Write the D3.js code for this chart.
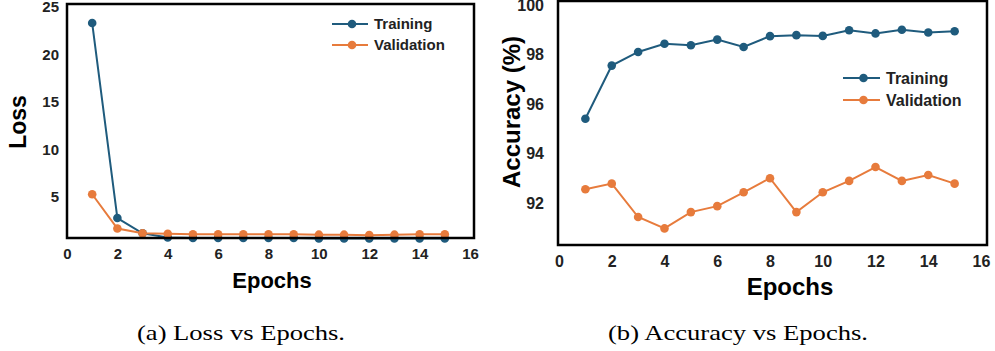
<!DOCTYPE html>
<html>
<head>
<meta charset="utf-8">
<script src="https://cdn.jsdelivr.net/npm/d3@7"></script>
<style>
  body { margin: 0; background: #fff; }
  svg { display: block; }
  .tick text { font-family: "Liberation Sans", Arial, sans-serif; font-weight: bold; fill: #222; }
</style>
</head>
<body>
<svg id="chart" width="995" height="351"></svg>
<script>
// data
const epochs = [1, 2, 3, 4, 5, 6, 7, 8, 9, 10, 11, 12, 13, 14, 15];
const lossTrain = [23.3, 2.8, 1.2, 0.75, 0.7, 0.7, 0.7, 0.7, 0.7, 0.65, 0.65, 0.65, 0.65, 0.65, 0.65];
const lossVal = [5.3, 1.7, 1.2, 1.15, 1.1, 1.1, 1.1, 1.1, 1.1, 1.05, 1.05, 1.0, 1.05, 1.1, 1.1];
const accTrain = [95.4, 97.55, 98.1, 98.43, 98.37, 98.6, 98.3, 98.74, 98.78, 98.75, 98.98, 98.85, 99.0, 98.89, 98.94];
const accVal = [92.55, 92.78, 91.43, 90.97, 91.63, 91.87, 92.43, 93.0, 91.63, 92.43, 92.89, 93.45, 92.89, 93.13, 92.78];
const xTicks = [0, 2, 4, 6, 8, 10, 12, 14, 16];
const lossTicks = [5, 10, 15, 20, 25];
const accTicks = [92, 94, 96, 98, 100];
const seriesNames = ["Training", "Validation"];

const colors = { Training: "#1f5b7d", Validation: "#e77b3c" };
const sans = '"Liberation Sans", Arial, sans-serif';

const svg = d3.select("#chart");

function panel(opt) {
  const x = d3.scaleLinear().domain([0, 16]).range(opt.xRange);
  const y = d3.scaleLinear().domain(opt.yDomain).range(opt.yRange);
  const g = svg.append("g");

  const line = d3.line()
    .x((d, i) => x(epochs[i]))
    .y(d => y(d));

  opt.series.forEach(s => {
    g.append("path")
      .attr("d", line(s.values))
      .attr("fill", "none")
      .attr("stroke", colors[s.name])
      .attr("stroke-width", 2);
    g.selectAll(null)
      .data(s.values)
      .enter()
      .append("circle")
      .attr("cx", (d, i) => x(epochs[i]))
      .attr("cy", d => y(d))
      .attr("r", 4.3)
      .attr("fill", colors[s.name]);
  });

  // frame
  g.append("rect")
    .attr("x", opt.frame[0])
    .attr("y", opt.frame[1])
    .attr("width", opt.frame[2] - opt.frame[0])
    .attr("height", opt.frame[3] - opt.frame[1])
    .attr("fill", "none")
    .attr("stroke", "#000")
    .attr("stroke-width", 2.5);

  // axes
  const xAxis = g.append("g")
    .attr("transform", `translate(0,${opt.frame[3]})`)
    .call(d3.axisBottom(x).tickValues(xTicks).tickSize(0).tickPadding(opt.xPad));
  xAxis.select(".domain").remove();
  xAxis.selectAll("text").style("font-size", opt.tickFont + "px");

  const yAxis = g.append("g")
    .attr("transform", `translate(${opt.frame[0]},0)`)
    .call(d3.axisLeft(y).tickValues(opt.yTicks).tickSize(0).tickPadding(opt.yPad));
  yAxis.select(".domain").remove();
  yAxis.selectAll("text").style("font-size", opt.tickFont + "px");

  // axis titles
  g.append("text")
    .attr("x", opt.xTitle[0])
    .attr("y", opt.xTitle[1])
    .attr("text-anchor", "middle")
    .style("font-family", sans)
    .style("font-weight", "bold")
    .style("font-size", opt.xTitle[2] + "px")
    .text("Epochs");

  g.append("text")
    .attr("transform", `translate(${opt.yTitle[0]},${opt.yTitle[1]}) rotate(-90)`)
    .attr("text-anchor", "middle")
    .attr("dy", "0.35em")
    .style("font-family", sans)
    .style("font-weight", "bold")
    .style("font-size", opt.yTitle[2] + "px")
    .text(opt.yLabel);

  // legend
  const leg = g.selectAll(".legend")
    .data(seriesNames)
    .enter()
    .append("g")
    .attr("transform", (d, i) => `translate(${opt.legend[0]},${opt.legend[1] + i * opt.legend[2]})`);
  leg.append("line")
    .attr("x1", 0).attr("x2", opt.legend[3])
    .attr("stroke", d => colors[d])
    .attr("stroke-width", 2);
  leg.append("circle")
    .attr("cx", opt.legend[3] / 2 + 2)
    .attr("r", 4.3)
    .attr("fill", d => colors[d]);
  leg.append("text")
    .attr("x", opt.legend[3] + 6)
    .attr("dy", "0.35em")
    .style("font-family", sans)
    .style("font-weight", "bold")
    .style("font-size", opt.legend[4] + "px")
    .style("fill", "#222")
    .text(d => d);

  // caption (serif, stretched to the width of the original LaTeX caption)
  svg.append("text")
    .attr("x", opt.caption[0])
    .attr("y", 340)
    .attr("text-anchor", "middle")
    .attr("textLength", opt.caption[2])
    .attr("lengthAdjust", "spacingAndGlyphs")
    .style("font-family", '"Liberation Serif", "DejaVu Serif", serif')
    .style("font-size", "21px")
    .text(opt.caption[1]);
}

panel({
  xRange: [67, 470],
  yDomain: [0.7, 25.3],
  yRange: [238, 4],
  frame: [67, 4, 474, 238],
  yTicks: lossTicks,
  tickFont: 15,
  xPad: 10,
  yPad: 8,
  series: [{ name: "Training", values: lossTrain }, { name: "Validation", values: lossVal }],
  xTitle: [272, 288, 22],
  yTitle: [18, 122, 23],
  yLabel: "Loss",
  legend: [332, 24, 21, 36, 15],
  caption: [241, "(a) Loss vs Epochs.", 208]
});

panel({
  xRange: [559, 981],
  yDomain: [90.3, 100.16],
  yRange: [245, 1],
  frame: [558, 1, 987, 245],
  yTicks: accTicks,
  tickFont: 16,
  xPad: 11,
  yPad: 14,
  series: [{ name: "Training", values: accTrain }, { name: "Validation", values: accVal }],
  xTitle: [790, 295, 24],
  yTitle: [512, 112, 24],
  yLabel: "Accuracy (%)",
  legend: [843, 78, 22, 37, 16],
  caption: [738, "(b) Accuracy vs Epochs.", 260]
});
</script>
</body>
</html>
